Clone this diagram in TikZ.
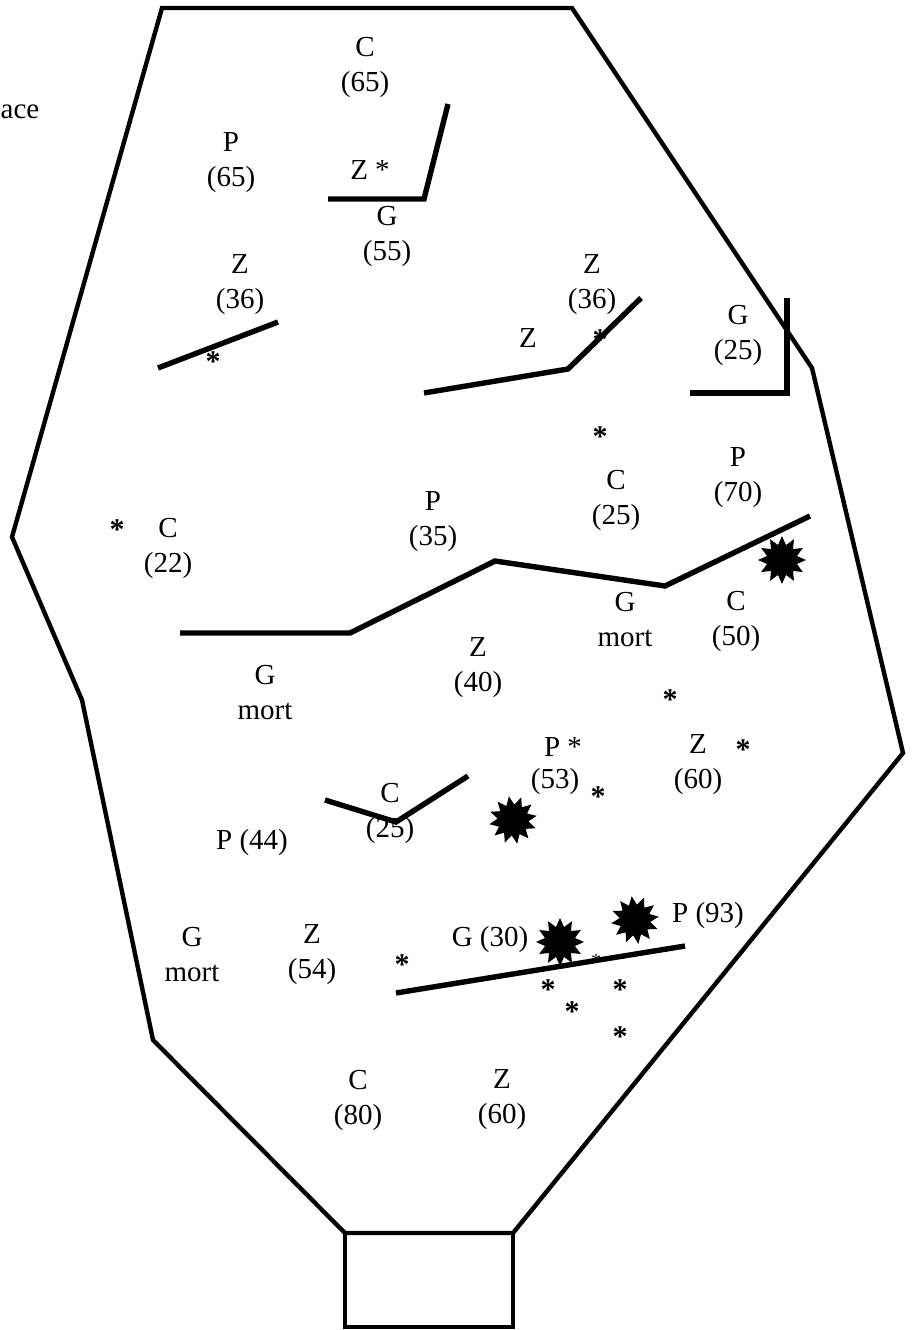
\documentclass[tikz,border=0pt]{standalone}
\usepackage{fontspec}
\setmainfont{Liberation Serif}
\usetikzlibrary{shapes.geometric}
\begin{document}
\begin{tikzpicture}[x=1pt,y=-1pt,
  lbl/.style={font=\fontsize{29}{35}\selectfont, align=center, inner sep=0pt},
  ast/.style={font=\fontsize{30}{30}\selectfont\bfseries, inner sep=0pt, yshift=-5pt},
  wall/.style={line width=4.4pt, line join=miter},
  seg/.style={line width=5.4pt, line join=miter},
  burst/.style={star, star points=12, star point ratio=1.55, fill=black, draw=none, minimum size=48pt, inner sep=0pt}]
\useasboundingbox (0,0) rectangle (913,1330);
% outline
\coordinate (o1) at (162,8);
\coordinate (o2) at (572,8);
\coordinate (o3) at (812,368);
\coordinate (o4) at (903,753);
\coordinate (o5) at (513,1233);
\coordinate (o6) at (345,1233);
\coordinate (o7) at (153,1040);
\coordinate (o8) at (82,700);
\coordinate (o9) at (12,537);
\coordinate (b1) at (513,1327);
\coordinate (b2) at (345,1327);
\draw[wall] (o1) -- (o2) -- (o3) -- (o4) -- (o5) -- (o6) -- (o7) -- (o8) -- (o9) -- cycle;
\draw[wall] (o6) -- (b2) -- (b1) -- (o5);
% interior lines
\coordinate (a1) at (328,199); \coordinate (a2) at (424,199); \coordinate (a3) at (448,104);
\draw[seg] (a1) -- (a2) -- (a3);
\coordinate (c1) at (158,368); \coordinate (c2) at (278,322);
\draw[seg] (c1) -- (c2);
\coordinate (d1) at (424,393); \coordinate (d2) at (568,369); \coordinate (d3) at (641,298);
\draw[seg] (d1) -- (d2) -- (d3);
\coordinate (e1) at (690,393); \coordinate (e2) at (787,393); \coordinate (e3) at (787,298);
\draw[seg] (e1) -- (e2) -- (e3);
\coordinate (f1) at (180,633); \coordinate (f2) at (350,633); \coordinate (f3) at (495,561);
\coordinate (f4) at (665,586); \coordinate (f5) at (810,516);
\draw[seg] (f1) -- (f2) -- (f3) -- (f4) -- (f5);
\coordinate (g1) at (325,800); \coordinate (g2) at (396,822); \coordinate (g3) at (468,776);
\draw[seg] (g1) -- (g2) -- (g3);
\coordinate (h1) at (396,993); \coordinate (h2) at (685,946);
\draw[seg] (h1) -- (h2);
% bursts
\node[burst] (s1) at (782,560) {};
\node[burst, rotate=10] (s2) at (513,820) {};
\node[burst] (s3) at (560,942) {};
\node[burst, rotate=8] (s4) at (635,920) {};
% labels
\node[lbl] (t0) at (20,112) {ace};
\node[lbl] (t1) at (365,67) {C\\(65)};
\node[lbl] (t2) at (231,163) {P\\(65)};
\node[lbl] (t3) at (370,170) {Z *};
\node[lbl] (t4) at (387,236) {G\\(55)};
\node[lbl] (t5) at (240,285) {Z\\(36)};
\node[lbl] (t6) at (592,285) {Z\\(36)};
\node[lbl] (t7) at (528,338) {Z};
\node[lbl] (t8) at (738,335) {G\\(25)};
\node[lbl] (t9) at (738,478) {P\\(70)};
\node[lbl] (t10) at (616,500) {C\\(25)};
\node[lbl] (t11) at (433,522) {P\\(35)};
\node[lbl] (t12) at (168,548) {C\\(22)};
\node[lbl] (t13) at (625,620) {G\\mort};
\node[lbl] (t14) at (736,621) {C\\(50)};
\node[lbl] (t15) at (478,668) {Z\\(40)};
\node[lbl] (t16) at (265,693) {G\\mort};
\node[lbl] (t17) at (563,747) {P *};
\node[lbl] (t18) at (555,782) {(53)};
\node[lbl] (t19) at (698,765) {Z\\(60)};
\node[lbl] (t20) at (390,813) {C\\(25)};
\node[lbl] (t21) at (252,843) {P (44)};
\node[lbl] (t22) at (192,955) {G\\mort};
\node[lbl] (t23) at (312,955) {Z\\(54)};
\node[lbl] (t24) at (490,940) {G (30)};
\node[lbl] (t25) at (708,916) {P (93)};
\node[lbl] (t26) at (358,1100) {C\\(80)};
\node[lbl] (t27) at (502,1100) {Z\\(60)};
% asterisks
\node[ast] (x1) at (213,357) {*};
\node[ast] (x2) at (600,335) {*};
\node[ast] (x3) at (600,432) {*};
\node[ast] (x4) at (117,525) {*};
\node[ast] (x5) at (670,695) {*};
\node[ast] (x6) at (598,792) {*};
\node[ast] (x7) at (743,745) {*};
\node[ast] (x8) at (402,960) {*};
\node[ast] (x9) at (548,985) {*};
\node[ast] (x10) at (620,985) {*};
\node[ast] (x11) at (572,1007) {*};
\node[ast] (x12) at (620,1032) {*};
\node[ast, font=\fontsize{20}{20}\selectfont, yshift=2pt] (x13) at (596,958) {*};
\end{tikzpicture}
\end{document}
